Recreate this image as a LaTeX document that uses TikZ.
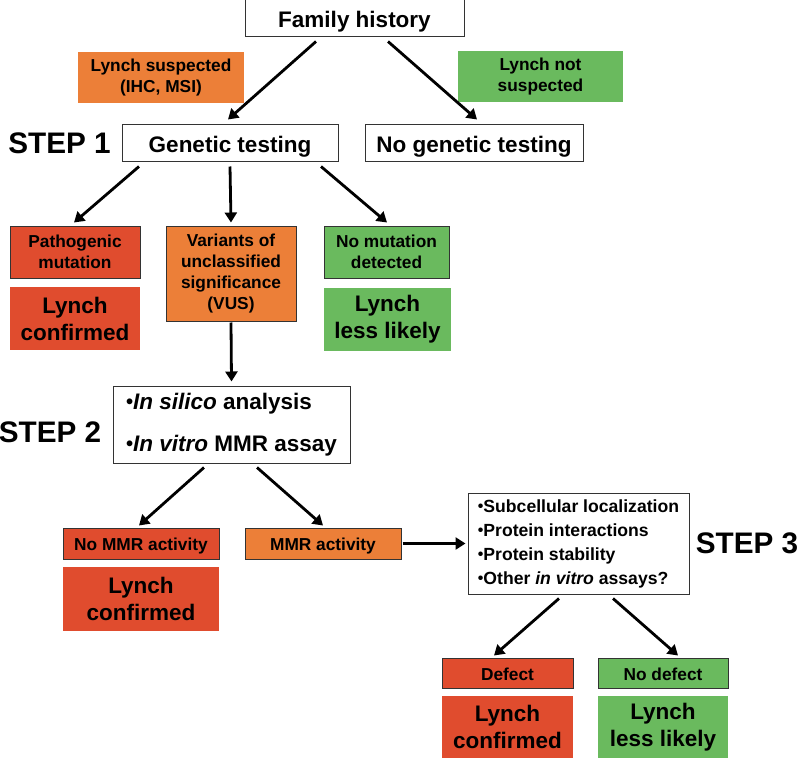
\documentclass[tikz,border=0pt]{standalone}
\usepackage{fontspec}
\setmainfont{Liberation Sans}
\usetikzlibrary{arrows.meta}
\definecolor{lred}{RGB}{224,76,46}
\definecolor{lorange}{RGB}{236,127,56}
\definecolor{lgreen}{RGB}{106,186,94}
\newcommand\mybul{\raisebox{0.04em}{\scalebox{0.9}{•}}}
\tikzset{
  wbox/.style={draw=black!80, line width=1pt, fill=white, inner sep=0pt, align=center, font=\bfseries\fontsize{22.5}{27}\selectfont},
  wone/.style={wbox, text height=19pt, text depth=0pt},
  cbox/.style={draw=black!80, line width=1pt, inner sep=0pt, align=center, font=\bfseries\fontsize{17.3}{21}\selectfont},
  cone/.style={cbox, text height=14.5pt, text depth=0pt},
  pbox/.style={inner sep=0pt, align=center, font=\bfseries\fontsize{17.3}{21}\selectfont},
  bigbox/.style={inner sep=0pt, align=center, font=\bfseries\fontsize{22.5}{27}\selectfont},
  steplabel/.style={inner sep=0pt, font=\bfseries\fontsize{29.7}{34}\selectfont},
  arr/.style={line width=2.8pt, -{Triangle[length=10pt,width=12pt]}},
}
\begin{document}
\begin{tikzpicture}[x=1pt,y=-1pt]
\useasboundingbox (0,0) rectangle (800,760);
% top
\node[wone, minimum width=219pt, minimum height=37pt] (fh) at (354.5,18.5) {Family history};
\node[pbox, fill=lorange, minimum width=166pt, minimum height=51pt] (ls) at (161,77.5) {Lynch suspected\\(IHC, MSI)};
\node[pbox, fill=lgreen, minimum width=165pt, minimum height=51pt] (lns) at (540.5,76.5) {Lynch not\\suspected};
\node[steplabel] (s1) at (59.5,143) {STEP 1};
\node[wone, minimum width=216pt, minimum height=37pt] (gt) at (230,142.5) {Genetic testing};
\node[wone, minimum width=218pt, minimum height=37pt] (ngt) at (474,142.5) {No genetic testing};
% level 2
\node[cbox, fill=lred, minimum width=130pt, minimum height=52pt] (pm) at (75,252) {Pathogenic\\mutation};
\node[bigbox, fill=lred, minimum width=130pt, minimum height=63pt] (lc1) at (75,318.5) {Lynch\\confirmed};
\node[cbox, fill=lorange, minimum width=130pt, minimum height=95pt] (vus) at (231,273.5) {Variants of\\unclassified\\significance\\(VUS)};
\node[cbox, fill=lgreen, minimum width=125pt, minimum height=52pt] (nm) at (386.5,252) {No mutation\\detected};
\node[bigbox, fill=lgreen, minimum width=127pt, minimum height=63pt] (ll1) at (387.5,319.5) {Lynch\\less likely};
% step 2
\node[steplabel] (s2) at (50,432) {STEP 2};
\node[wbox, minimum width=237pt, minimum height=77pt, align=left] (s2b) at (231.5,424.5) {\mybul\textit{In silico} analysis\\[15pt]\mybul\textit{In vitro} MMR assay};
\node[cone, fill=lred, minimum width=156pt, minimum height=31pt] (nomm) at (141,543.5) {No MMR activity};
\node[cone, fill=lorange, minimum width=156pt, minimum height=31pt] (mm) at (323,543.5) {MMR activity};
\node[bigbox, fill=lred, minimum width=156pt, minimum height=64pt] (lc2) at (141,599) {Lynch\\confirmed};
% step 3
\node[wbox, font=\bfseries\fontsize{17.6}{24}\selectfont, minimum width=221pt, minimum height=101pt, align=left] (s3b) at (578.5,543.5) {\mybul Subcellular localization\\\mybul Protein interactions\\\mybul Protein stability\\\mybul Other \textit{in vitro} assays?};
\node[steplabel] (s3) at (747,543) {STEP 3};
\node[cone, fill=lred, minimum width=131pt, minimum height=30pt] (df) at (507.5,673) {Defect};
\node[cone, fill=lgreen, minimum width=130pt, minimum height=30pt] (ndf) at (663,673) {No defect};
\node[bigbox, fill=lred, minimum width=131pt, minimum height=62pt] (lc3) at (507.5,727) {Lynch\\confirmed};
\node[bigbox, fill=lgreen, minimum width=130pt, minimum height=62pt] (ll3) at (663,727) {Lynch\\less likely};
% arrows
\draw[arr] ([xshift=-38.5pt,yshift=-4pt]fh.south) -- ([xshift=-2pt,yshift=4pt]gt.north);
\draw[arr] ([xshift=33.5pt,yshift=-4pt]fh.south) -- ([xshift=3pt,yshift=4pt]ngt.north);
\draw[arr] ([xshift=-91pt,yshift=-5pt]gt.south) -- ([xshift=-1pt,yshift=3pt]pm.north);
\draw[arr] ([yshift=-5pt]gt.south) -- ([yshift=3pt]vus.north);
\draw[arr] ([xshift=91pt,yshift=-5pt]gt.south) -- ([xshift=0.5pt,yshift=3pt]nm.north);
\draw[arr] ([yshift=-1pt]vus.south) -- ([yshift=4pt]s2b.north);
\draw[arr] ([xshift=-27.5pt,yshift=-4pt]s2b.south) -- ([xshift=-2pt,yshift=2pt]nomm.north);
\draw[arr] ([xshift=25.5pt,yshift=-4pt]s2b.south) -- ([yshift=2pt]mm.north);
\draw[arr] ([xshift=1pt]mm.east) -- ([xshift=-2pt]s3b.west);
\draw[arr] ([xshift=-19.5pt,yshift=-4pt]s3b.south) -- ([xshift=-13.5pt,yshift=2pt]df.north);
\draw[arr] ([xshift=34.5pt,yshift=-4pt]s3b.south) -- ([xshift=15pt,yshift=2pt]ndf.north);
\end{tikzpicture}
\end{document}
